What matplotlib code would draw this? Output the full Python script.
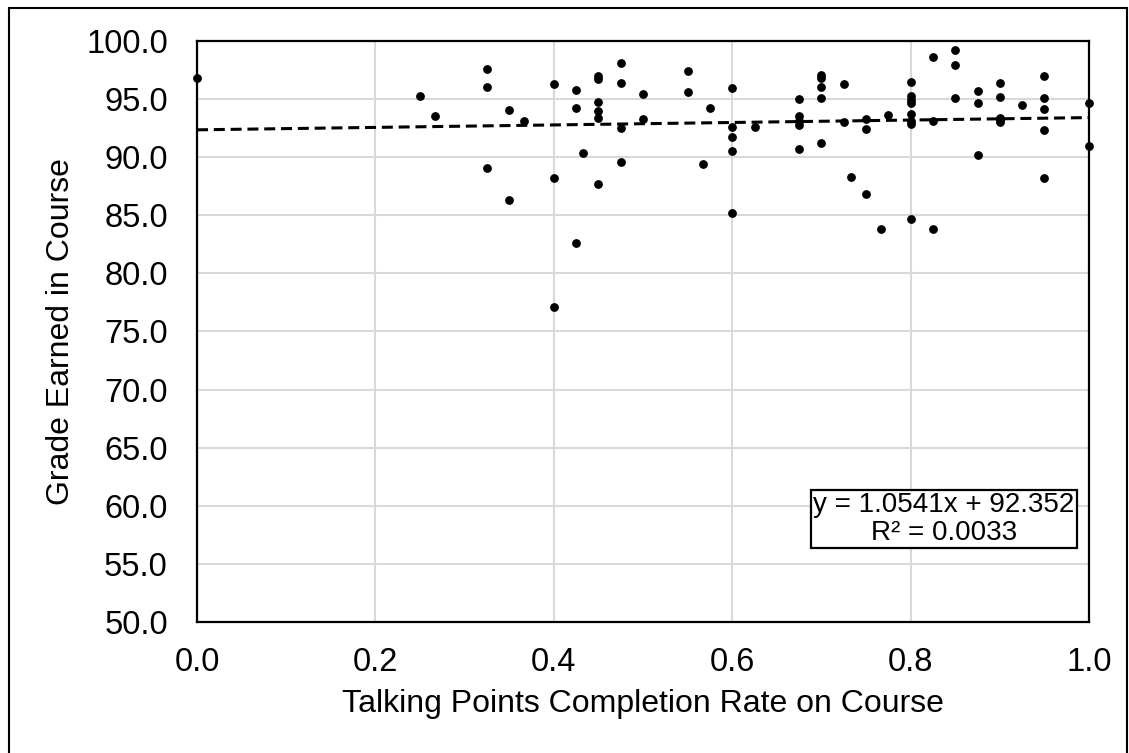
#!/usr/bin/env python3
"""Grade earned vs. talking points completion rate, with linear trend line."""

import matplotlib
matplotlib.use("Agg")
from matplotlib import pyplot as plt
from matplotlib.patches import Rectangle
import numpy

plt.rcParams["font.family"] = ["Liberation Sans", "DejaVu Sans"]

# completion rate (x) and course grade (y)
completion = [
    0.0, 0.25, 0.267,
    0.325, 0.325, 0.325,
    0.35, 0.35, 0.367,
    0.4, 0.4, 0.4,
    0.425, 0.425, 0.425, 0.433,
    0.45, 0.45, 0.45, 0.45, 0.45, 0.45,
    0.475, 0.475, 0.475, 0.475,
    0.5, 0.5, 0.55, 0.55, 0.567, 0.575,
    0.6, 0.6, 0.6, 0.6, 0.6, 0.625,
    0.675, 0.675, 0.675, 0.675, 0.675,
    0.7, 0.7, 0.7, 0.7, 0.7,
    0.725, 0.725, 0.733,
    0.75, 0.75, 0.75, 0.767, 0.775,
    0.8, 0.8, 0.8, 0.8, 0.8, 0.8, 0.8, 0.8,
    0.825, 0.825, 0.825,
    0.85, 0.85, 0.85,
    0.875, 0.875, 0.875,
    0.9, 0.9, 0.9, 0.9, 0.9, 0.925,
    0.95, 0.95, 0.95, 0.95, 0.95,
    1.0, 1.0,
]
grade = [
    96.8, 95.3, 93.5,
    97.6, 96.0, 89.1,
    94.1, 86.3, 93.1,
    96.3, 88.2, 77.1,
    95.75, 94.2, 82.6, 90.4,
    97.0, 96.75, 94.74, 94.0, 93.4, 87.7,
    98.1, 96.4, 92.5, 89.6,
    95.4, 93.3, 97.4, 95.6, 89.4, 94.2,
    95.95, 92.6, 91.7, 90.55, 85.2, 92.6,
    95.0, 93.5, 93.1, 92.8, 90.7,
    97.1, 96.8, 96.05, 95.05, 91.2,
    96.3, 93.0, 88.3,
    93.25, 92.4, 86.8, 83.8, 93.65,
    96.5, 95.25, 94.95, 94.7, 93.7, 93.15, 92.85, 84.7,
    98.6, 93.15, 83.8,
    99.25, 97.95, 95.05,
    95.7, 94.7, 90.2,
    96.35, 95.15, 93.4, 93.2, 93.0, 94.5,
    96.95, 95.05, 94.15, 92.3, 88.2,
    94.7, 91.0,
]

# trend line as reported on the chart
slope = 1.0541
intercept = 92.352
r_squared = 0.0033

x_ticks = [0.0, 0.2, 0.4, 0.6, 0.8, 1.0]
y_ticks = [50, 55, 60, 65, 70, 75, 80, 85, 90, 95, 100]


def main():
    fig = plt.figure(figsize=(11.29, 7.53), dpi=100)
    ax = fig.add_axes([0.1745, 0.174, 0.7901, 0.7716])

    # thin frame round the whole picture
    fig.patches.append(Rectangle((0.008, -0.01), 0.990, 1.0, transform=fig.transFigure,
                                 fill=False, edgecolor="black", linewidth=1.5))

    ax.scatter(completion, grade, s=28, color="black", zorder=3, clip_on=False)

    xs = numpy.array([0.0, 1.0])
    ax.plot(xs, slope * xs + intercept, color="black", linewidth=2.2,
            dashes=(3.6, 1.9), zorder=2)

    ax.set_xlim(0, 1)
    ax.set_ylim(50, 100)
    ax.set_xticks(x_ticks)
    ax.set_yticks(y_ticks)
    ax.xaxis.set_major_formatter(plt.FormatStrFormatter("%.1f"))
    ax.yaxis.set_major_formatter(plt.FormatStrFormatter("%.1f"))
    ax.tick_params(axis="both", length=0, labelsize=23.5)
    ax.tick_params(axis="x", pad=18)
    ax.tick_params(axis="y", pad=21)
    ax.grid(True, color="#d9d9d9", linewidth=1.5, zorder=0)
    ax.set_axisbelow(True)
    for spine in ax.spines.values():
        spine.set_linewidth(1.6)
        spine.set_color("black")

    ax.set_xlabel("Talking Points Completion Rate on Course", fontsize=23, labelpad=8)
    ax.set_ylabel("Grade Earned in Course", fontsize=23, labelpad=7)

    ax.text(0.8375, 0.177,
            "y = {:.4f}x + {:.3f}\nR\u00b2 = {:.4f}".format(slope, intercept, r_squared),
            transform=ax.transAxes, ha="center", va="center", multialignment="center",
            fontsize=20, linespacing=1.1, zorder=4,
            bbox=dict(boxstyle="square,pad=0.08", facecolor="white",
                      edgecolor="black", linewidth=1.6))

    fig.savefig("out.png", dpi=100)


if __name__ == "__main__":
    main()
